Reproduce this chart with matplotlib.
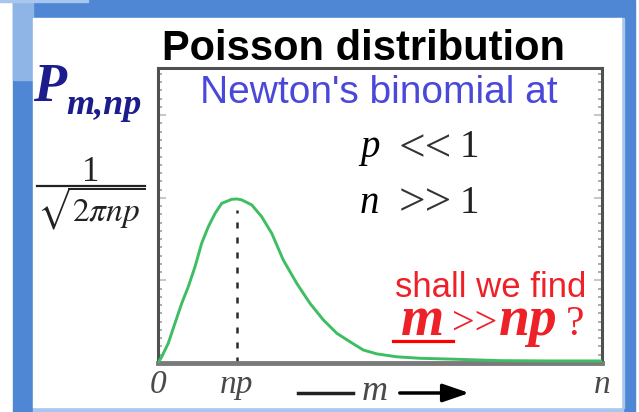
import matplotlib
matplotlib.use("Agg")
import matplotlib.pyplot as plt
from matplotlib.patches import Rectangle
from matplotlib.ticker import MultipleLocator

plt.rcParams['mathtext.fontset'] = 'stix'

# curve: m in units of np, P as fraction of the axes height
m_vals = [0, 0.047, 0.130, 0.215, 0.300, 0.384, 0.468, 0.553, 0.637, 0.722,
          0.806, 0.933, 1.0, 1.059, 1.186, 1.312, 1.439, 1.586, 1.756, 1.924,
          2.093, 2.262, 2.430, 2.599, 2.768, 3.022, 3.316, 3.734, 4.329, 4.962,
          5.62]
p_vals = [0, 0.021, 0.067, 0.135, 0.202, 0.259, 0.326, 0.406, 0.462, 0.507,
          0.541, 0.555, 0.556, 0.553, 0.536, 0.496, 0.440, 0.349, 0.270, 0.202,
          0.146, 0.101, 0.072, 0.044, 0.031, 0.021, 0.016, 0.013, 0.008, 0.007,
          0.007]
np_pos = 1.0
n_pos = 5.62
tick_pos = [0, np_pos, n_pos]
tick_labels = ['0', 'np', 'n']

W, H = 639, 412
fig = plt.figure(figsize=(W / 100, H / 100), dpi=100)

# background frame
bg = fig.add_axes([0, 0, 1, 1], zorder=0)
bg.set_xlim(0, W)
bg.set_ylim(H, 0)
bg.axis('off')
bg.add_patch(Rectangle((13, 0), 622, 412, color='#4f87d4'))
bg.add_patch(Rectangle((13, 0), 20, 80, color='#8fb4e6'))
bg.add_patch(Rectangle((0, 0), 88, 2, color='#a9c6ee'))
bg.add_patch(Rectangle((33, 406), 590, 6, color='#a9c6ee'))
bg.add_patch(Rectangle((620, 18), 4, 390, color='#a9c6ee'))
bg.add_patch(Rectangle((33, 18), 588, 389, color='white'))

# main axes
ax = fig.add_axes([158 / W, 1 - 363 / H, 444 / W, 295 / H], zorder=1)
ax.plot(m_vals, p_vals, color='#3dbe62', lw=2.1, solid_capstyle='round',
        solid_joinstyle='round', zorder=3)
ax.plot([np_pos, np_pos], [0, 0.52], color='#2a2a2a', lw=1.8,
        linestyle=(0, (2.4, 3.6)), zorder=2)
ax.set_xlim(0, n_pos)
ax.set_ylim(0, 1)
ax.set_xticks(tick_pos)
ax.set_xticklabels(tick_labels, fontstyle='italic', family='Liberation Serif',
                   fontsize=24, color='#4a4a4a')
ax.tick_params(axis='x', length=0, pad=5)
ax.set_yticks([0.28, 0.56, 0.84])
ax.set_yticklabels([])
ax.yaxis.set_minor_locator(MultipleLocator(0.028))
ax.tick_params(axis='y', which='major', direction='in', length=6, width=1.5,
               color='#c8c8c8', left=True, right=True)
ax.tick_params(axis='y', which='minor', direction='in', length=3, width=1.2,
               color='#a0a0a0', left=True, right=True)
for side in ['left', 'top', 'right']:
    ax.spines[side].set_color('#505050')
    ax.spines[side].set_linewidth(2.2)
ax.spines['bottom'].set_color('#7a7a7a')
ax.spines['bottom'].set_linewidth(3.5)

# text overlay in pixel coordinates
ov = fig.add_axes([0, 0, 1, 1], zorder=2)
ov.set_xlim(0, W)
ov.set_ylim(H, 0)
ov.axis('off')
ov.patch.set_alpha(0)

sans = 'Liberation Sans'
serif = 'Liberation Serif'

ov.text(364, 60, 'Poisson distribution', family=sans, weight='bold', fontsize=30,
        ha='center', va='baseline', color='black')
ov.text(200, 103, "Newton's binomial at", family=sans, fontsize=28,
        ha='left', va='baseline', color='#4a48d8')

# conditions
ov.text(360, 157, 'p', family=serif, style='italic', fontsize=28, va='baseline')
ov.text(399, 161, '<<', family=serif, fontsize=34, va='baseline', color='#333333')
ov.text(460, 157, '1', family=serif, fontsize=28, va='baseline', color='#222222')
ov.text(360, 213, 'n', family=serif, style='italic', fontsize=28, va='baseline')
ov.text(399, 215, '>>', family=serif, fontsize=34, va='baseline', color='#333333')
ov.text(460, 213, '1', family=serif, fontsize=28, va='baseline', color='#222222')

# y label
ov.text(33, 101, 'P', family=serif, style='italic', weight='bold', fontsize=39,
        va='baseline', color='#1c1c8c')
ov.text(66, 114, 'm,np', family=serif, style='italic', weight='bold', fontsize=26,
        va='baseline', color='#1c1c8c')
ov.text(91, 181, '1', family=serif, fontsize=25, ha='center', va='baseline',
        color='#222222')
ov.plot([37, 145], [186, 186], color='#222222', lw=1.6)
ov.text(91, 208, r'$\sqrt{2\pi np}$', fontsize=24, ha='center', va='center',
        color='#222222')

# question in red
red = '#ee2028'
ov.text(395, 297, 'shall we find', family=sans, fontsize=25, va='baseline', color=red)
ov.text(401, 335, 'm', family=serif, style='italic', weight='bold', fontsize=40,
        va='baseline', color=red)
ov.text(452, 334, '>>', family=serif, fontsize=29, va='baseline', color=red)
ov.text(499, 335, 'np', family=serif, style='italic', weight='bold', fontsize=40,
        va='baseline', color=red)
ov.text(566, 335, '?', family=serif, fontsize=30, va='baseline', color=red)
ov.plot([393, 453], [341, 341], color='red', lw=2.3)

# axis arrow "m"
ov.plot([298, 353], [393, 393], color='#222222', lw=2.5)
ov.text(375, 391, 'm', family=serif, style='italic', fontsize=26, ha='center',
        va='center', color='#4a4a4a')
ov.annotate('', xy=(472, 393), xytext=(397, 393),
            arrowprops=dict(arrowstyle='-|>,head_length=1.6,head_width=0.55',
                            color='black', lw=2.5))

fig.savefig('out.png', dpi=100)
